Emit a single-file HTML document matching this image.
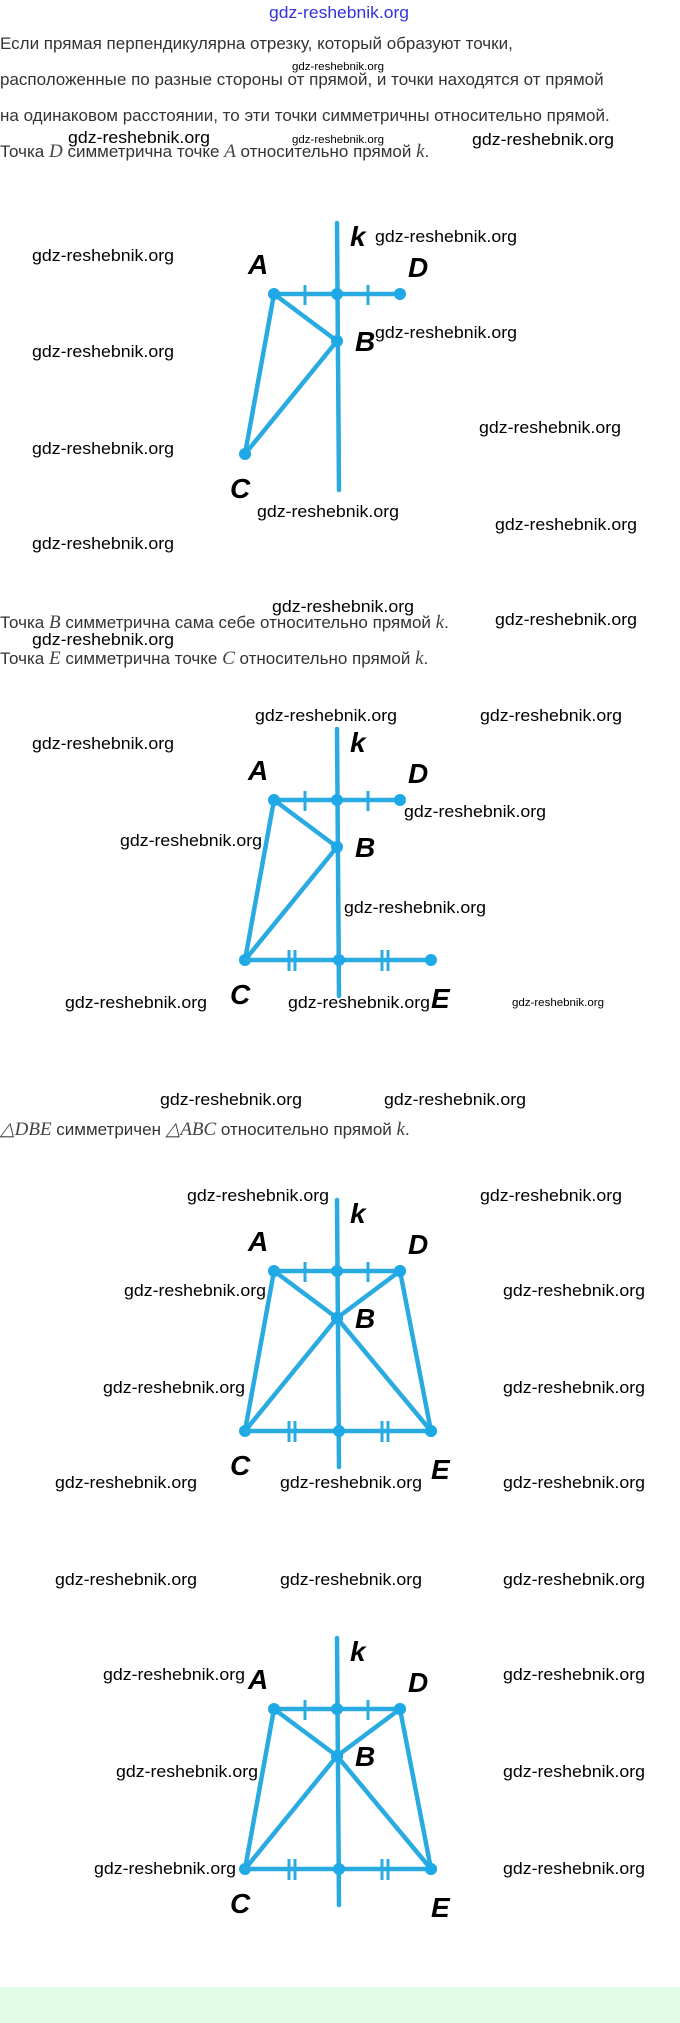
<!DOCTYPE html>
<html><head><meta charset="utf-8"><style>
html,body{margin:0;padding:0;background:#fff;width:680px;height:2023px;overflow:hidden}
svg{display:block}
.t{font-family:"Liberation Sans",sans-serif;font-size:17px;fill:#333}
.m{font-family:"Liberation Serif",serif;font-style:italic;font-size:19px;fill:#444}
.w{font-family:"Liberation Sans",sans-serif;font-size:17px;fill:#000}
.ws{font-family:"Liberation Sans",sans-serif;font-size:11px;fill:#000}
.l{font-family:"Liberation Sans",sans-serif;font-style:italic;font-weight:bold;font-size:28px;fill:#000}
.ln{stroke:#29abe2;stroke-width:4.5;fill:none;stroke-linecap:round}
.tk{stroke:#29abe2;stroke-width:3;fill:none}
.d{fill:#1fa8e6}
</style></head><body>
<svg width="680" height="2023" viewBox="0 0 680 2023" xmlns="http://www.w3.org/2000/svg">
<defs>
<g id="base">
<line class="ln" x1="337" y1="-71" x2="339" y2="196"/>
<line class="ln" x1="274" y1="0" x2="400" y2="0"/>
<line class="tk" x1="305" y1="-9" x2="305" y2="11"/>
<line class="tk" x1="368" y1="-9" x2="368" y2="11"/>
<line class="ln" x1="274" y1="0" x2="337" y2="47"/>
<line class="ln" x1="274" y1="0" x2="245" y2="160"/>
<line class="ln" x1="337" y1="47" x2="245" y2="160"/>
<circle class="d" cx="274" cy="0" r="6"/><circle class="d" cx="337" cy="0" r="6"/><circle class="d" cx="400" cy="0" r="6"/>
<circle class="d" cx="337" cy="47" r="6"/><circle class="d" cx="245" cy="160" r="6"/>
<text class="l" x="350" y="-48">k</text>
<text class="l" x="248" y="-20">A</text>
<text class="l" x="408" y="-17">D</text>
<text class="l" x="355" y="57">B</text>
<text class="l" x="230" y="204">C</text>
</g>
<g id="ce">
<line class="ln" x1="245" y1="160" x2="431" y2="160"/>
<line class="tk" x1="289" y1="150" x2="289" y2="171"/><line class="tk" x1="295" y1="150" x2="295" y2="171"/>
<line class="tk" x1="382" y1="150" x2="382" y2="171"/><line class="tk" x1="388" y1="150" x2="388" y2="171"/>
<circle class="d" cx="339" cy="160" r="6"/><circle class="d" cx="431" cy="160" r="6"/>
<text class="l" x="431" y="208">E</text>
</g>
<g id="full">
<line class="ln" x1="400" y1="0" x2="337" y2="47"/>
<line class="ln" x1="337" y1="47" x2="431" y2="160"/>
<line class="ln" x1="400" y1="0" x2="431" y2="160"/>
<circle class="d" cx="400" cy="0" r="6"/><circle class="d" cx="337" cy="47" r="6"/><circle class="d" cx="431" cy="160" r="6"/>
</g>
</defs>

<text x="339" y="18" text-anchor="middle" style="font-family:'Liberation Sans',sans-serif;font-size:17px;fill:#3333dd" textLength="140" lengthAdjust="spacingAndGlyphs">gdz-reshebnik.org</text>
<text class="t" x="0" y="49">Если прямая перпендикулярна отрезку, который образуют точки,</text>
<text class="t" x="0" y="85">расположенные по разные стороны от прямой, и точки находятся от прямой</text>
<text class="t" x="0" y="121">на одинаковом расстоянии, то эти точки симметричны относительно прямой.</text>
<text class="t" x="0" y="157">Точка <tspan class="m">D</tspan> симметрична точке <tspan class="m">A</tspan> относительно прямой <tspan class="m">k</tspan>.</text>
<text class="t" x="0" y="628">Точка <tspan class="m">B</tspan> симметрична сама себе относительно прямой <tspan class="m">k</tspan>.</text>
<text class="t" x="0" y="664">Точка <tspan class="m">E</tspan> симметрична точке <tspan class="m">C</tspan> относительно прямой <tspan class="m">k</tspan>.</text>
<text class="t" x="0" y="1135"><tspan class="m">△DBE</tspan> симметричен <tspan class="m">△ABC</tspan> относительно прямой <tspan class="m">k</tspan>.</text>

<g transform="translate(0,294)"><use href="#base"/></g>
<g transform="translate(0,800)"><use href="#base"/><use href="#ce"/></g>
<g transform="translate(0,1271)"><use href="#base"/><use href="#ce"/><use href="#full"/></g>
<g transform="translate(0,1709)"><use href="#base"/><use href="#ce"/><use href="#full"/></g>

<g class="w">
<text x="68" y="143" textLength="142" lengthAdjust="spacingAndGlyphs">gdz-reshebnik.org</text>
<text x="472" y="145" textLength="142" lengthAdjust="spacingAndGlyphs">gdz-reshebnik.org</text>
<text x="32" y="261" textLength="142" lengthAdjust="spacingAndGlyphs">gdz-reshebnik.org</text>
<text x="375" y="242" textLength="142" lengthAdjust="spacingAndGlyphs">gdz-reshebnik.org</text>
<text x="375" y="338" textLength="142" lengthAdjust="spacingAndGlyphs">gdz-reshebnik.org</text>
<text x="479" y="433" textLength="142" lengthAdjust="spacingAndGlyphs">gdz-reshebnik.org</text>
<text x="32" y="357" textLength="142" lengthAdjust="spacingAndGlyphs">gdz-reshebnik.org</text>
<text x="32" y="454" textLength="142" lengthAdjust="spacingAndGlyphs">gdz-reshebnik.org</text>
<text x="257" y="517" textLength="142" lengthAdjust="spacingAndGlyphs">gdz-reshebnik.org</text>
<text x="495" y="530" textLength="142" lengthAdjust="spacingAndGlyphs">gdz-reshebnik.org</text>
<text x="32" y="549" textLength="142" lengthAdjust="spacingAndGlyphs">gdz-reshebnik.org</text>
<text x="272" y="612" textLength="142" lengthAdjust="spacingAndGlyphs">gdz-reshebnik.org</text>
<text x="495" y="625" textLength="142" lengthAdjust="spacingAndGlyphs">gdz-reshebnik.org</text>
<text x="32" y="645" textLength="142" lengthAdjust="spacingAndGlyphs">gdz-reshebnik.org</text>
<text x="255" y="721" textLength="142" lengthAdjust="spacingAndGlyphs">gdz-reshebnik.org</text>
<text x="480" y="721" textLength="142" lengthAdjust="spacingAndGlyphs">gdz-reshebnik.org</text>
<text x="32" y="749" textLength="142" lengthAdjust="spacingAndGlyphs">gdz-reshebnik.org</text>
<text x="404" y="817" textLength="142" lengthAdjust="spacingAndGlyphs">gdz-reshebnik.org</text>
<text x="120" y="846" textLength="142" lengthAdjust="spacingAndGlyphs">gdz-reshebnik.org</text>
<text x="344" y="913" textLength="142" lengthAdjust="spacingAndGlyphs">gdz-reshebnik.org</text>
<text x="65" y="1008" textLength="142" lengthAdjust="spacingAndGlyphs">gdz-reshebnik.org</text>
<text x="288" y="1008" textLength="142" lengthAdjust="spacingAndGlyphs">gdz-reshebnik.org</text>
<text x="160" y="1105" textLength="142" lengthAdjust="spacingAndGlyphs">gdz-reshebnik.org</text>
<text x="384" y="1105" textLength="142" lengthAdjust="spacingAndGlyphs">gdz-reshebnik.org</text>
<text x="187" y="1201" textLength="142" lengthAdjust="spacingAndGlyphs">gdz-reshebnik.org</text>
<text x="480" y="1201" textLength="142" lengthAdjust="spacingAndGlyphs">gdz-reshebnik.org</text>
<text x="124" y="1296" textLength="142" lengthAdjust="spacingAndGlyphs">gdz-reshebnik.org</text>
<text x="503" y="1296" textLength="142" lengthAdjust="spacingAndGlyphs">gdz-reshebnik.org</text>
<text x="103" y="1393" textLength="142" lengthAdjust="spacingAndGlyphs">gdz-reshebnik.org</text>
<text x="503" y="1393" textLength="142" lengthAdjust="spacingAndGlyphs">gdz-reshebnik.org</text>
<text x="55" y="1488" textLength="142" lengthAdjust="spacingAndGlyphs">gdz-reshebnik.org</text>
<text x="280" y="1488" textLength="142" lengthAdjust="spacingAndGlyphs">gdz-reshebnik.org</text>
<text x="503" y="1488" textLength="142" lengthAdjust="spacingAndGlyphs">gdz-reshebnik.org</text>
<text x="55" y="1585" textLength="142" lengthAdjust="spacingAndGlyphs">gdz-reshebnik.org</text>
<text x="280" y="1585" textLength="142" lengthAdjust="spacingAndGlyphs">gdz-reshebnik.org</text>
<text x="503" y="1585" textLength="142" lengthAdjust="spacingAndGlyphs">gdz-reshebnik.org</text>
<text x="103" y="1680" textLength="142" lengthAdjust="spacingAndGlyphs">gdz-reshebnik.org</text>
<text x="503" y="1680" textLength="142" lengthAdjust="spacingAndGlyphs">gdz-reshebnik.org</text>
<text x="116" y="1777" textLength="142" lengthAdjust="spacingAndGlyphs">gdz-reshebnik.org</text>
<text x="503" y="1777" textLength="142" lengthAdjust="spacingAndGlyphs">gdz-reshebnik.org</text>
<text x="94" y="1874" textLength="142" lengthAdjust="spacingAndGlyphs">gdz-reshebnik.org</text>
<text x="503" y="1874" textLength="142" lengthAdjust="spacingAndGlyphs">gdz-reshebnik.org</text>
</g>
<g class="ws">
<text x="292" y="70" textLength="92" lengthAdjust="spacingAndGlyphs">gdz-reshebnik.org</text>
<text x="292" y="143" textLength="92" lengthAdjust="spacingAndGlyphs">gdz-reshebnik.org</text>
<text x="512" y="1006" textLength="92" lengthAdjust="spacingAndGlyphs">gdz-reshebnik.org</text>
</g>
<rect x="0" y="1987" width="680" height="36" fill="#e0fbe8"/>
</svg>
</body></html>
